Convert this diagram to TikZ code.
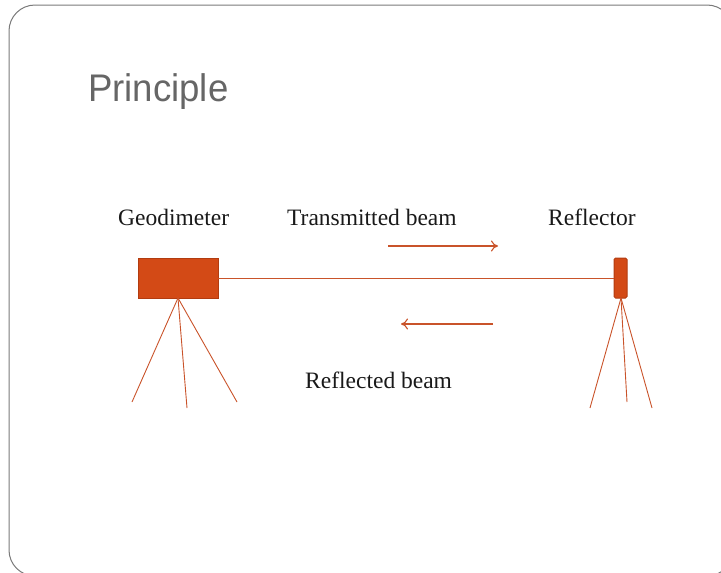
\documentclass[tikz,border=0pt]{standalone}
\usepackage{fontspec}
\setmainfont{Liberation Serif}
\newfontfamily\titlefont{Liberation Sans}
\usetikzlibrary{arrows.meta}
\definecolor{beam}{HTML}{C9532A}
\definecolor{boxfill}{HTML}{D34A16}
\definecolor{boxedge}{HTML}{B23C10}
\definecolor{framegray}{HTML}{7A7A7A}
\definecolor{titlegray}{HTML}{666666}
\tikzset{
  beamline/.style={draw=beam, line width=1.1pt},
  leg/.style={draw=beam, line width=0.9pt},
  instrument/.style={draw=boxedge, fill=boxfill, line width=1pt, inner sep=0pt, outer sep=0pt},
  lbl/.style={font=\fontsize{23.5}{27}\selectfont, text=black!90, inner sep=0pt, anchor=base west},
  arr/.style={beamline, -{To[length=7pt,width=11pt]}}
}
\begin{document}
\begin{tikzpicture}[x=1pt,y=-1pt]
\useasboundingbox (0,0) rectangle (721,573);
\draw[framegray, line width=1pt, rounded corners=26pt] (9,5) rectangle (733,576);
\node[anchor=base west, inner sep=0pt, text=titlegray, font=\titlefont\fontsize{38.5}{42}\selectfont, xscale=0.95] (title) at (88,101) {Principle};

\node[instrument, minimum width=80pt, minimum height=40pt] (geo) at (178,278) {};
\node[instrument, minimum width=13pt, minimum height=40pt, rounded corners=1.5pt] (refl) at (620.5,278) {};
\draw[beamline, line width=1pt] (geo.east) -- (refl.west);

\coordinate (ga) at (178,298);
\coordinate (g1) at (132,402);
\coordinate (g2) at (187,408);
\coordinate (g3) at (237,402);
\draw[leg] (g1) -- (ga) -- (g3);
\draw[leg] (ga) -- (g2);

\coordinate (ra) at (621,298);
\coordinate (r1) at (590,408);
\coordinate (r2) at (627,402);
\coordinate (r3) at (652,408);
\draw[leg] (r1) -- (ra) -- (r3);
\draw[leg] (ra) -- (r2);

\node[lbl] (lgeo) at (118,225) {Geodimeter};
\node[lbl] (ltx) at (287,225) {Transmitted beam};
\node[lbl] (lrefl) at (548,225) {Reflector};
\node[lbl] (lrx) at (305,388) {Reflected beam};

\coordinate (t1) at (388,246);
\coordinate (t2) at (498,246);
\coordinate (s1) at (493,324);
\coordinate (s2) at (401,324);
\draw[arr] (t1) -- (t2);
\draw[arr] (s1) -- (s2);
\end{tikzpicture}
\end{document}
